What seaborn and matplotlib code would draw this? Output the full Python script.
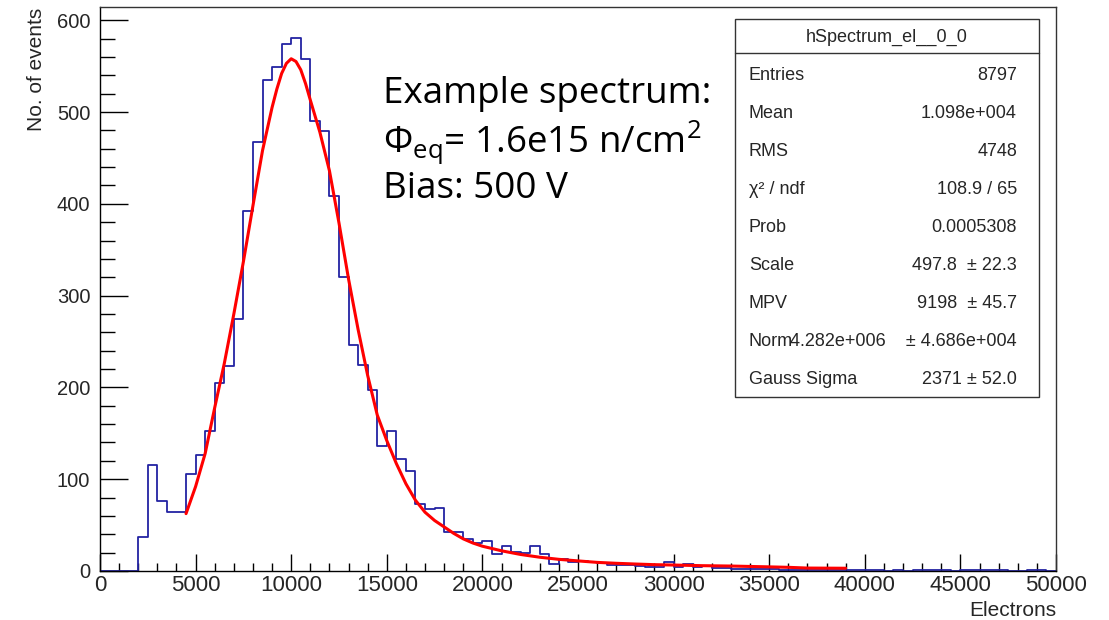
import numpy as np
import pandas as pd
import matplotlib
matplotlib.use("Agg")
import matplotlib.pyplot as plt
import seaborn as sns
from matplotlib.patches import Rectangle
from matplotlib.lines import Line2D
from matplotlib.ticker import MultipleLocator

# ---------------- data ----------------
bin_width = 500
bin_lefts = list(range(0, 50000, bin_width))
counts = [
    0, 0, 0, 0, 37, 116, 76, 64, 64, 106,
    126, 153, 205, 223, 275, 392, 467, 535, 549, 574,
    581, 558, 490, 479, 408, 320, 246, 224, 197, 136,
    153, 122, 109, 73, 67, 69, 43, 43, 35, 30,
    33, 18, 27, 21, 20, 27, 19, 8, 13, 10,
    11, 10, 9, 7, 7, 6, 5, 4, 4, 10,
    4, 8, 4, 5, 3, 3, 2, 2, 2, 2,
    2, 1, 1, 1, 1, 1, 1, 1, 1, 1,
    1, 1, 0, 1, 0, 1, 1, 1, 1, 0,
    1, 1, 1, 1, 1, 0, 0, 1, 1, 0,
]

fit_x = [4500, 5000, 5500, 6000, 6500, 7000, 7500, 8000, 8500, 9000,
         9250, 9500, 9750, 10000, 10250, 10500, 10750, 11000, 11500, 12000,
         12500, 13000, 13500, 14000,
         14500, 15000, 15500, 16000, 16500, 17000, 17500, 18000, 18500, 19000,
         19500, 20000, 21000, 22000, 23000, 24000, 25000, 26000, 27000, 28000,
         29000, 30000, 31500, 33000, 35000, 36000, 37000, 39000]
fit_y = [62.5, 92, 128, 178, 226, 280, 337, 398, 458, 505,
         525, 542, 553, 558, 555, 546, 531, 513, 478, 436,
         379, 318, 263, 213,
         170, 142, 117, 95, 77, 64, 55, 48, 41, 35,
         30.5, 27, 22, 18, 15, 12.7, 11, 9.4, 8.4, 7.6,
         6.9, 6.5, 5.8, 5.4, 4.5, 4.0, 3.2, 3.0]

x_ticks = [0, 5000, 10000, 15000, 20000, 25000, 30000, 35000, 40000, 45000, 50000]
y_ticks = [0, 100, 200, 300, 400, 500, 600]

stats_title = "hSpectrum_el__0_0"
stats_labels = ["Entries", "Mean", "RMS", "χ² / ndf", "Prob", "Scale", "MPV", "Norm", "Gauss Sigma"]
stats_values = ["8797", "1.098e+004", "4748", "108.9 / 65", "0.0005308",
                "497.8  ± 22.3", "9198  ± 45.7", "4.282e+006    ± 4.686e+004", "2371 ± 52.0"]

annot_lines = ["Example spectrum:",
               "Φ$_\\mathregular{eq}$= 1.6e15 n/cm$^\\mathregular{2}$",
               "Bias: 500 V"]

# ---------------- styling ----------------
sns.set_theme(style="white")
plt.rcParams["font.family"] = ["Liberation Sans", "DejaVu Sans"]
plt.rcParams["mathtext.fontset"] = "custom"
plt.rcParams["mathtext.rm"] = "Open Sans"
plt.rcParams["mathtext.it"] = "Open Sans:italic"

W, H, DPI = 1109, 620, 100
fig = plt.figure(figsize=(W / DPI, H / DPI), dpi=DPI)
fig.patch.set_facecolor("white")

ax_l, ax_r, ax_b, ax_t = 100, 1056, 571, 7
ax = fig.add_axes([ax_l / W, 1 - ax_b / H, (ax_r - ax_l) / W, (ax_b - ax_t) / H])
ax.set_facecolor("white")

df = pd.DataFrame({"center": np.array(bin_lefts) + bin_width / 2, "count": counts})
edges = list(bin_lefts) + [bin_lefts[-1] + bin_width]
sns.histplot(data=df, x="center", weights="count", bins=edges, element="step",
             fill=False, color="#2323a3", linewidth=1.3, ax=ax)

fit_df = pd.DataFrame({"x": fit_x, "y": fit_y})
sns.lineplot(data=fit_df, x="x", y="y", color="#ff0000", linewidth=2.2, ax=ax,
             sort=False)

ax.set_xlim(0, 50000)
ax.set_ylim(0, (ax_b - ax_t) / 0.918)
ax.set_xticks(x_ticks)
ax.set_yticks(y_ticks)
ax.set_xticklabels([str(v) for v in x_ticks])
ax.set_yticklabels([str(v) for v in y_ticks])
ax.xaxis.set_minor_locator(MultipleLocator(1000))
ax.yaxis.set_minor_locator(MultipleLocator(20))
ax.tick_params(axis="x", which="major", direction="in", length=12.5, width=1,
               color="black", labelsize=16, pad=3, top=False, bottom=True)
ax.tick_params(axis="x", which="minor", direction="in", length=6, width=1,
               color="black", top=False, bottom=True)
ax.tick_params(axis="y", which="major", direction="in", length=20, width=1,
               color="black", labelsize=14.5, pad=7, right=False, left=True)
ax.tick_params(axis="y", which="minor", direction="in", length=10.5, width=1,
               color="black", right=False, left=True)
for s in ax.spines.values():
    s.set_visible(True)
    s.set_color("#333333")
    s.set_linewidth(1.0)
    s.set_zorder(3)
ax.spines["left"].set_color("black")
ax.spines["bottom"].set_color("black")
ax.grid(False)

ax.set_xlabel("Electrons", fontsize=15, loc="right")
ax.xaxis.set_label_coords(1.0, (ax_b - 601) / (ax_b - ax_t))
ax.set_ylabel("No. of events", fontsize=15, loc="top")
ax.yaxis.set_label_coords((46 - ax_l) / (ax_r - ax_l), (ax_b - 8) / (ax_b - ax_t))

# annotation text
for txt, yb in zip(annot_lines, [103, 152, 198]):
    fig.text(383 / W, 1 - yb / H, txt, fontsize=26.5, va="baseline", ha="left",
             family=["Open Sans", "DejaVu Sans"], color="black")

# stats box
bx0, bx1, by0, by1 = 735, 1039, 19, 397
fig.patches.append(Rectangle((bx0 / W, 1 - by1 / H), (bx1 - bx0) / W, (by1 - by0) / H,
                             transform=fig.transFigure, facecolor="white",
                             edgecolor="#333333", linewidth=1.0, zorder=5))
fig.lines.append(Line2D([bx0 / W, bx1 / W], [1 - 53 / H, 1 - 53 / H],
                        transform=fig.transFigure, color="#333333", linewidth=1.0, zorder=6))
fig.text((bx0 + bx1) / 2 / W, 1 - 37 / H, stats_title, fontsize=13, ha="center",
         va="center", zorder=7)
row_y = [76, 114, 152, 189, 227, 266, 303, 341, 379]
for lab, val, ry in zip(stats_labels, stats_values, row_y):
    fig.text(749 / W, 1 - ry / H, lab, fontsize=13, ha="left", va="center", zorder=7)
    fig.text(1017 / W, 1 - ry / H, val, fontsize=13, ha="right", va="center", zorder=7)

fig.savefig("out.png", dpi=DPI, facecolor="white")
